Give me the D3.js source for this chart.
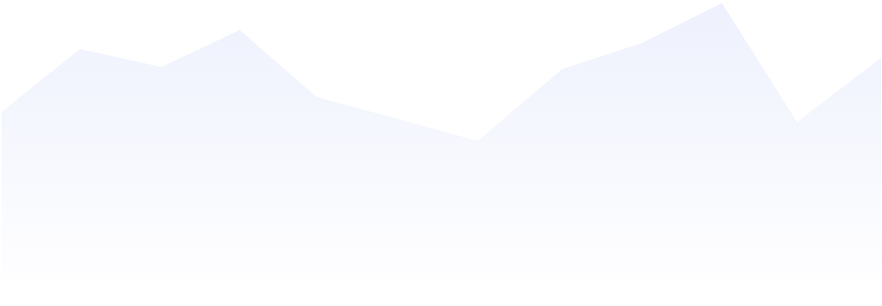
<!DOCTYPE html>
<html>
<head>
<meta charset="utf-8">
<script src="https://cdn.jsdelivr.net/npm/d3@7"></script>
<style>
  html, body { margin: 0; padding: 0; background: #ffffff; }
  svg { display: block; }
</style>
</head>
<body>
<svg id="chart" width="882" height="306"></svg>
<script>
// Data
const positions = [0, 0.98, 2, 2.98, 3.94, 4.96, 5.96, 7.01, 8.01, 9.01, 9.95, 11];
const values = [170, 233, 215, 252, 185, 163, 141, 213, 239, 279, 160, 224];

const width = 882, height = 306;
const svg = d3.select("#chart");

const x = d3.scaleLinear().domain([0, 11]).range([1.5, 881]);
const y = d3.scaleLinear().domain([0, 280]).range([282, 2]);

const defs = svg.append("defs");
const grad = defs.append("linearGradient")
  .attr("id", "areaFill")
  .attr("x1", 0).attr("y1", 0).attr("x2", 0).attr("y2", 1);
grad.append("stop").attr("offset", "0%").attr("stop-color", "#eef1fd");
grad.append("stop").attr("offset", "100%").attr("stop-color", "#fefeff");

const data = positions.map((p, i) => ({ p, v: values[i] }));

const area = d3.area()
  .x(d => x(d.p))
  .y0(y(0))
  .y1(d => y(d.v));

svg.append("path")
  .datum(data)
  .attr("d", area)
  .attr("fill", "url(#areaFill)");
</script>
</body>
</html>
